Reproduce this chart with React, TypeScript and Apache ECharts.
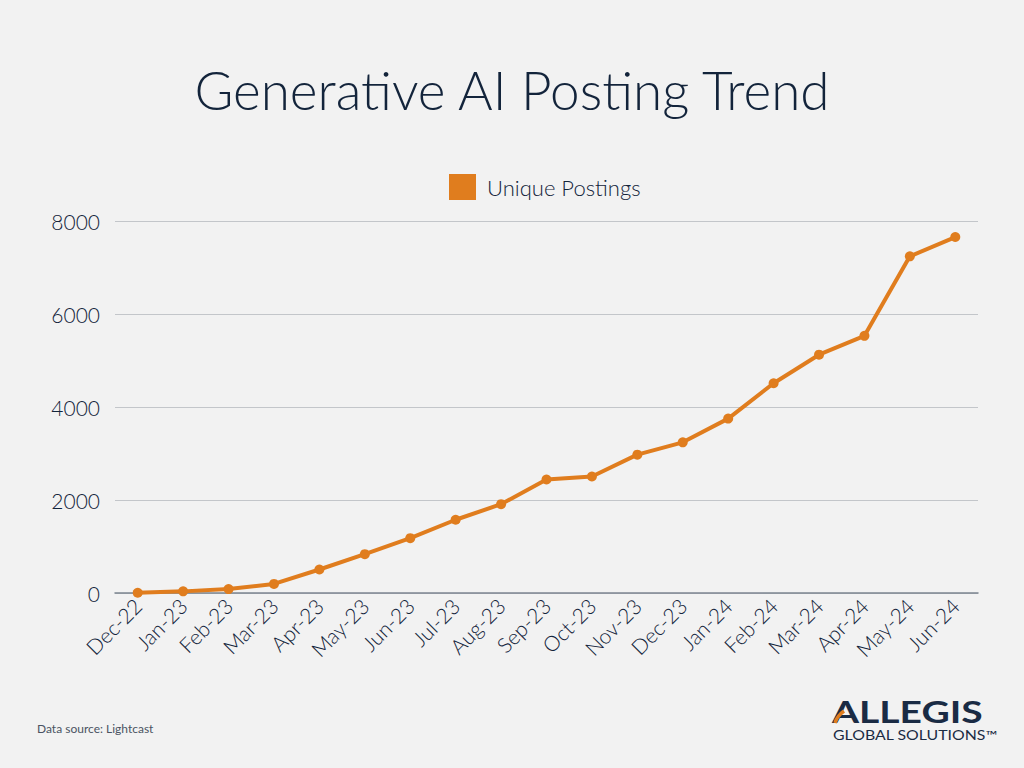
import React, { useEffect, useRef } from "react";
import * as echarts from "echarts";

const categories = [
  "Dec-22", "Jan-23", "Feb-23", "Mar-23", "Apr-23", "May-23", "Jun-23",
  "Jul-23", "Aug-23", "Sep-23", "Oct-23", "Nov-23", "Dec-23", "Jan-24",
  "Feb-24", "Mar-24", "Apr-24", "May-24", "Jun-24",
];
const uniquePostings = [
  5, 35, 85, 195, 505, 835, 1180, 1575, 1910, 2440, 2505, 2975, 3240,
  3750, 4510, 5125, 5530, 7240, 7655,
];
const yTicks = { min: 0, max: 8000, interval: 2000 };

const NAVY = "#13243b";
const ORANGE = "#e07d1e";
const FONT = "Lato, 'Open Sans', sans-serif";

export default function App() {
  const ref = useRef<HTMLDivElement>(null);
  useEffect(() => {
    document.body.style.margin = "0";
    const chart = echarts.init(ref.current!, null, { renderer: "svg" });
    chart.setOption({
      animation: false,
      backgroundColor: "#f2f2f2",
      textStyle: { fontFamily: FONT },
      title: {
        text: "Generative AI Posting Trend",
        left: "center",
        top: 58,
        textStyle: { fontFamily: FONT, fontWeight: 300, fontSize: 53, color: NAVY },
      },
      legend: {
        left: 444,
        top: 169,
        icon: "rect",
        itemWidth: 27,
        itemHeight: 26,
        itemGap: 10,
        textStyle: {
          fontFamily: FONT,
          fontSize: 22,
          color: NAVY,
          fontWeight: 300,
          padding: [0, 0, 0, 6],
        },
        data: ["Unique Postings"],
      },
      grid: { left: 115, right: 46, top: 221, bottom: 175, containLabel: false },
      xAxis: {
        type: "category",
        data: categories,
        boundaryGap: true,
        axisLine: { lineStyle: { color: "#7c8590", width: 1.5 } },
        axisTick: { show: false },
        axisLabel: {
          rotate: 45,
          interval: 0,
          margin: 9,
          fontSize: 21,
          fontWeight: 300,
          color: NAVY,
          fontFamily: FONT,
        },
      },
      yAxis: {
        type: "value",
        min: yTicks.min,
        max: yTicks.max,
        interval: yTicks.interval,
        axisLine: { show: false },
        axisTick: { show: false },
        splitLine: { lineStyle: { color: "#c3c6ca", width: 1 } },
        axisLabel: {
          margin: 15,
          fontSize: 21,
          fontWeight: 300,
          color: NAVY,
          fontFamily: FONT,
          formatter: (v: number) => String(v),
        },
      },
      series: [
        {
          name: "Unique Postings",
          type: "line",
          data: uniquePostings,
          color: ORANGE,
          lineStyle: { color: ORANGE, width: 4 },
          itemStyle: { color: ORANGE },
          symbol: "circle",
          symbolSize: 10,
        },
      ],
      graphic: [
        {
          type: "text",
          left: 37,
          top: 722,
          style: { text: "Data source: Lightcast", fontSize: 12, fill: "#4a5462", fontFamily: FONT },
        },
        {
          type: "text",
          x: 832,
          y: 696,
          scaleX: 1.3,
          style: {
            text: "ALLEGIS",
            fontSize: 30,
            fontWeight: "bold",
            fill: "#1a2b44",
            fontFamily: FONT,
          },
        },
        {
          type: "bezierCurve",
          shape: { x1: 835, y1: 723, x2: 844, y2: 711, cpx1: 837, cpy1: 716 },
          style: { stroke: ORANGE, lineWidth: 3.5, fill: "none" },
        },
        {
          type: "text",
          x: 833,
          y: 729,
          scaleX: 1.22,
          style: {
            text: "GLOBAL SOLUTIONS™",
            fontSize: 13,
            fill: "#1a2b44",
            fontFamily: FONT,
          },
        },
      ],
    });
    return () => chart.dispose();
  }, []);
  return (
    <div
      ref={ref}
      style={{ position: "absolute", left: 0, top: 0, width: 1024, height: 768 }}
    />
  );
}
